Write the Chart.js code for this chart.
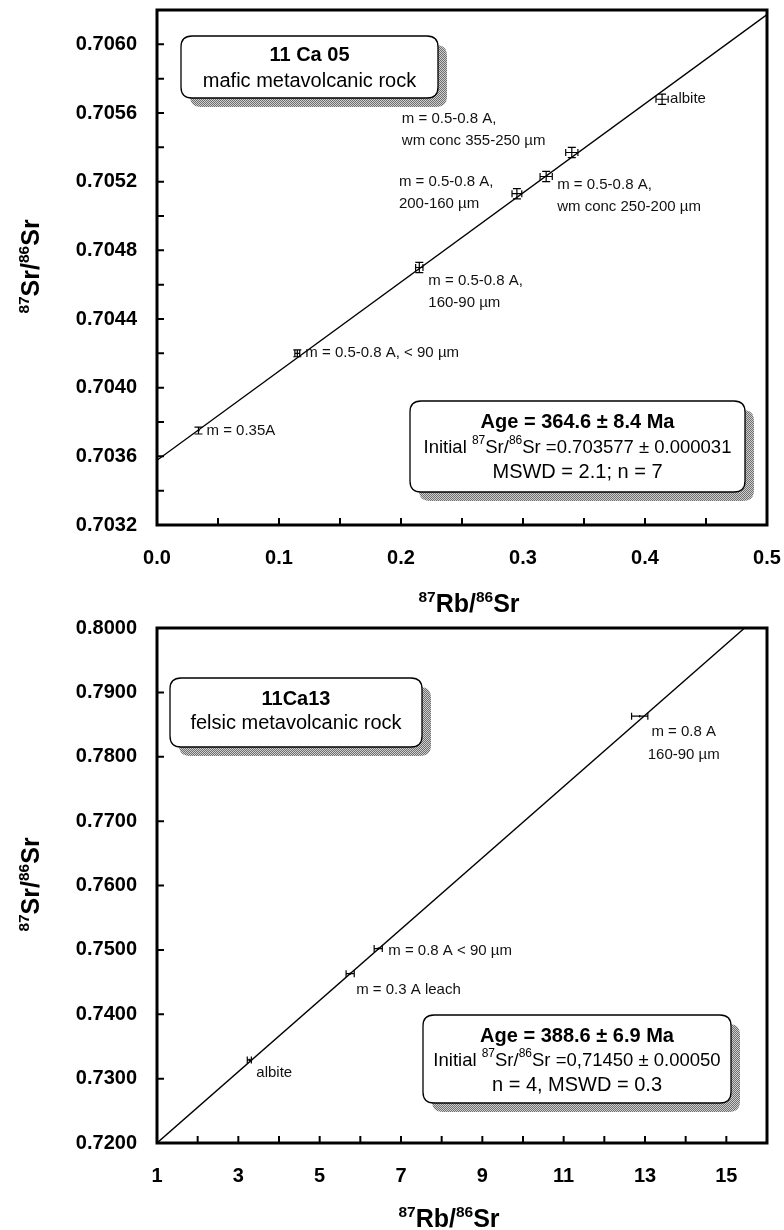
<!DOCTYPE html>
<html><head><meta charset="utf-8">
<script src="https://cdn.jsdelivr.net/npm/chart.js@4.4.1/dist/chart.umd.min.js"></script>
<style>
html,body{margin:0;padding:0;background:#fff;}
.wrap{position:relative;width:784px;height:615px;}
canvas{display:block;}
</style></head><body>
<div class="wrap"><canvas id="c1" width="784" height="615"></canvas></div>
<div class="wrap"><canvas id="c2" width="784" height="615"></canvas></div>
<script>
// ---------- DATA: top chart (11 Ca 05) ----------
const topX    = [0.034, 0.115, 0.215, 0.295, 0.319, 0.340, 0.414];
const topY    = [0.70375, 0.70420, 0.70470, 0.70513, 0.70523, 0.70537, 0.70568];
const topXErr = [0.001, 0.002, 0.003, 0.004, 0.005, 0.005, 0.005];
const topYErr = [0.00002, 0.00002, 0.00003, 0.00003, 0.00003, 0.00003, 0.00003];
const topPointLabels = [
  ["m = 0.35A"],
  ["m = 0.5-0.8 A, < 90 µm"],
  ["m = 0.5-0.8 A,", "160-90 µm"],
  ["m = 0.5-0.8 A,", "200-160 µm"],
  ["m = 0.5-0.8 A,", "wm conc 250-200 µm"],
  ["m = 0.5-0.8 A,", "wm conc 355-250 µm"],
  ["albite"]
];
const topLineX = [0, 0.5];
const topLineY = [0.703577, 0.706173];
const topXTickValues = [0, 0.05, 0.1, 0.15, 0.2, 0.25, 0.3, 0.35, 0.4, 0.45, 0.5];
const topXTickLabels = ["0.0", "", "0.1", "", "0.2", "", "0.3", "", "0.4", "", "0.5"];
const topYTickValues = [0.7032, 0.7034, 0.7036, 0.7038, 0.7040, 0.7042, 0.7044, 0.7046, 0.7048, 0.7050, 0.7052, 0.7054, 0.7056, 0.7058, 0.7060, 0.7062];
const topYTickLabels = ["0.7032", "", "0.7036", "", "0.7040", "", "0.7044", "", "0.7048", "", "0.7052", "", "0.7056", "", "0.7060", ""];

// ---------- DATA: bottom chart (11Ca13) ----------
const botX    = [3.27, 5.75, 6.44, 12.87];
const botY    = [0.7329, 0.7463, 0.7502, 0.7863];
const botXErr = [0.05, 0.1, 0.1, 0.2];
const botYErr = [0.0002, 0.0002, 0.0002, 0.0002];
const botPointLabels = [
  ["albite"],
  ["m = 0.3 A leach"],
  ["m = 0.8 A < 90 µm"],
  ["m = 0.8 A", "160-90 µm"]
];
const botLineX = [1, 15.45];
const botLineY = [0.7200, 0.8000];
const botXTickValues = [1,2,3,4,5,6,7,8,9,10,11,12,13,14,15,16];
const botXTickLabels = ["1","","3","","5","","7","","9","","11","","13","","15",""];
const botYTickValues = [0.72, 0.73, 0.74, 0.75, 0.76, 0.77, 0.78, 0.79, 0.80];
const botYTickLabels = ["0.7200","0.7300","0.7400","0.7500","0.7600","0.7700","0.7800","0.7900","0.8000"];

// ---------- text boxes ----------
const topBoxSample = ["11 Ca 05", "mafic metavolcanic rock"];
const topBoxAge = ["Age = 364.6 ± 8.4 Ma", "=0.703577 ± 0.000031", "MSWD = 2.1; n = 7"];
const botBoxSample = ["11Ca13", "felsic metavolcanic rock"];
const botBoxAge = ["Age = 388.6 ± 6.9 Ma", "=0,71450 ± 0.00050", "n = 4, MSWD = 0.3"];

// ---------- styles / layout ----------
const FONT = "'Liberation Sans', Arial, Helvetica, sans-serif";
Chart.defaults.font.family = FONT;
Chart.defaults.color = '#000';

const pc = document.createElement('canvas'); pc.width = 2; pc.height = 2;
const pctx = pc.getContext('2d');
pctx.fillStyle = '#cfcfcf'; pctx.fillRect(0,0,2,2);
pctx.fillStyle = '#6e6e6e'; pctx.fillRect(0,0,1,1); pctx.fillRect(1,1,1,1);

function rr(ctx, x, y, w, h, r) {
  ctx.beginPath();
  ctx.moveTo(x + r, y);
  ctx.lineTo(x + w - r, y); ctx.quadraticCurveTo(x + w, y, x + w, y + r);
  ctx.lineTo(x + w, y + h - r); ctx.quadraticCurveTo(x + w, y + h, x + w - r, y + h);
  ctx.lineTo(x + r, y + h); ctx.quadraticCurveTo(x, y + h, x, y + h - r);
  ctx.lineTo(x, y + r); ctx.quadraticCurveTo(x, y, x + r, y);
  ctx.closePath();
}
function drawRich(ctx, parts, cx, cy, mainFont, supFont, rise, baseline) {
  ctx.textBaseline = baseline || 'middle';
  ctx.textAlign = 'left';
  let total = 0;
  parts.forEach(p => { ctx.font = p.sup ? supFont : mainFont; p.w = ctx.measureText(p.t).width; total += p.w; });
  let x = cx - total / 2;
  parts.forEach(p => {
    ctx.font = p.sup ? supFont : mainFont;
    ctx.fillText(p.t, x, p.sup ? cy - rise : cy);
    x += p.w;
  });
}
function drawBox(ctx, b) {
  ctx.save();
  rr(ctx, b.x + 9, b.y + 9, b.w, b.h, 11);
  ctx.fillStyle = ctx.createPattern(pc, 'repeat');
  ctx.fill();
  rr(ctx, b.x, b.y, b.w, b.h, 11);
  ctx.fillStyle = '#fff'; ctx.fill();
  ctx.lineWidth = 1.3; ctx.strokeStyle = '#000'; ctx.stroke();
  ctx.restore();
}

function makeDecor(cfg) {
  return {
    id: 'decor',
    afterDatasetsDraw(chart) {
      const ctx = chart.ctx, xs = chart.scales.x, ys = chart.scales.y, ca = chart.chartArea;
      ctx.save();
      // error bars
      ctx.strokeStyle = '#000'; ctx.lineWidth = 1.2;
      for (let i = 0; i < cfg.X.length; i++) {
        const px = xs.getPixelForValue(cfg.X[i]), py = ys.getPixelForValue(cfg.Y[i]);
        const x1 = xs.getPixelForValue(cfg.X[i] - cfg.XE[i]), x2 = xs.getPixelForValue(cfg.X[i] + cfg.XE[i]);
        const y1 = ys.getPixelForValue(cfg.Y[i] - cfg.YE[i]), y2 = ys.getPixelForValue(cfg.Y[i] + cfg.YE[i]);
        ctx.beginPath();
        ctx.moveTo(x1, py); ctx.lineTo(x2, py);
        if (x2 - x1 > 2.5) { ctx.moveTo(x1, py - 3.5); ctx.lineTo(x1, py + 3.5); ctx.moveTo(x2, py - 3.5); ctx.lineTo(x2, py + 3.5); }
        ctx.moveTo(px, y1); ctx.lineTo(px, y2);
        if (y1 - y2 > 4) { ctx.moveTo(px - 4, y1); ctx.lineTo(px + 4, y1); ctx.moveTo(px - 4, y2); ctx.lineTo(px + 4, y2); }
        ctx.stroke();
      }
      // point labels
      ctx.fillStyle = '#111';
      ctx.font = '15px ' + FONT;
      ctx.textBaseline = 'middle';
      for (let i = 0; i < cfg.X.length; i++) {
        const px = xs.getPixelForValue(cfg.X[i]), py = ys.getPixelForValue(cfg.Y[i]);
        const o = cfg.labelOffsets[i];
        ctx.textAlign = o.align || 'left';
        cfg.labels[i].forEach((line, j) => ctx.fillText(line, px + o.dx, py + o.dy + j * 22.5));
      }
      // frame
      ctx.lineWidth = 3; ctx.strokeStyle = '#000';
      ctx.strokeRect(ca.left, ca.top, ca.right - ca.left, ca.bottom - ca.top);
      // inward ticks
      ctx.lineWidth = 2;
      ctx.beginPath();
      xs.ticks.forEach(t => {
        const p = xs.getPixelForValue(t.value);
        if (p > ca.left + 2 && p < ca.right - 2) { ctx.moveTo(p, ca.bottom); ctx.lineTo(p, ca.bottom - 7); }
      });
      ys.ticks.forEach(t => {
        const p = ys.getPixelForValue(t.value);
        if (p > ca.top + 2 && p < ca.bottom - 2) { ctx.moveTo(ca.left, p); ctx.lineTo(ca.left + 7, p); }
      });
      ctx.stroke();
      // boxes
      cfg.boxes.forEach(b => {
        drawBox(ctx, b);
        ctx.fillStyle = '#000';
        b.lines.forEach(l => {
          if (l.parts) {
            drawRich(ctx, l.parts, b.x + b.w / 2, l.y, '18.5px ' + FONT, '12px ' + FONT, 7.5);
          } else {
            ctx.font = (l.bold ? 'bold ' : '') + '20px ' + FONT;
            ctx.textAlign = 'center'; ctx.textBaseline = 'middle';
            ctx.fillText(l.t, b.x + b.w / 2, l.y);
          }
        });
      });
      // axis titles
      ctx.fillStyle = '#000';
      drawRich(ctx, [{t:'87',sup:true},{t:'Rb/'},{t:'86',sup:true},{t:'Sr'}], cfg.xTitleX, 612,
        'bold 25px ' + FONT, 'bold 15.5px ' + FONT, 10.5, 'alphabetic');
      ctx.save();
      ctx.translate(39, (ca.top + ca.bottom) / 2 - 1);
      ctx.rotate(-Math.PI / 2);
      drawRich(ctx, [{t:'87',sup:true},{t:'Sr/'},{t:'86',sup:true},{t:'Sr'}], 0, 0,
        'bold 25px ' + FONT, 'bold 15.5px ' + FONT, 10.5, 'alphabetic');
      ctx.restore();
      ctx.restore();
    }
  };
}

function makeChart(id, cfg) {
  const labelFor = (vals, labs) => v => { const i = vals.findIndex(a => Math.abs(a - v) < 1e-9); return i >= 0 ? labs[i] : ''; };
  return new Chart(document.getElementById(id), {
    type: 'scatter',
    data: {
      datasets: [
        { data: cfg.lineX.map((x, i) => ({x, y: cfg.lineY[i]})), showLine: true, borderColor: '#000', borderWidth: 1.4, pointRadius: 0, fill: false },
        { data: cfg.X.map((x, i) => ({x, y: cfg.Y[i]})), pointRadius: 0, showLine: false }
      ]
    },
    options: {
      responsive: false, animation: false, events: [],
      layout: { padding: cfg.padding },
      plugins: { legend: { display: false }, tooltip: { enabled: false } },
      scales: {
        x: {
          type: 'linear', min: cfg.xMin, max: cfg.xMax,
          afterBuildTicks: s => { s.ticks = cfg.xTickValues.map(v => ({value: v})); },
          afterFit: s => { s.height = cfg.xHeight; s.paddingLeft = 0; s.paddingRight = 0; },
          ticks: { autoSkip: false, maxRotation: 0, padding: 23, font: { size: 20, weight: 'bold', lineHeight: 1 }, color: '#000', callback: labelFor(cfg.xTickValues, cfg.xTickLabels) },
          grid: { display: false, drawTicks: false }, border: { display: false }
        },
        y: {
          type: 'linear', min: cfg.yMin, max: cfg.yMax,
          afterBuildTicks: s => { s.ticks = cfg.yTickValues.map(v => ({value: v})); },
          afterFit: s => { s.width = 157; s.paddingTop = 0; s.paddingBottom = 0; },
          ticks: { autoSkip: false, padding: 20, font: { size: 20, weight: 'bold', lineHeight: 1 }, color: '#000', callback: labelFor(cfg.yTickValues, cfg.yTickLabels) },
          grid: { display: false, drawTicks: false }, border: { display: false }
        }
      }
    },
    plugins: [makeDecor(cfg)]
  });
}

makeChart('c1', {
  X: topX, Y: topY, XE: topXErr, YE: topYErr, labels: topPointLabels,
  lineX: topLineX, lineY: topLineY,
  xMin: 0, xMax: 0.5, yMin: 0.7032, yMax: 0.7062,
  xTickValues: topXTickValues, xTickLabels: topXTickLabels,
  yTickValues: topYTickValues, yTickLabels: topYTickLabels,
  padding: { top: 10, right: 17, left: 0, bottom: 0 }, xHeight: 90, xTitleX: 469,
  labelOffsets: [
    {dx: 8, dy: 0}, {dx: 8, dy: 0}, {dx: 9, dy: 13}, {dx: -118, dy: -12},
    {dx: 11, dy: 8}, {dx: -170, dy: -34}, {dx: 8, dy: 0}
  ],
  boxes: [
    { x: 181, y: 36, w: 257, h: 62, lines: [ {t: topBoxSample[0], bold: true, y: 55}, {t: topBoxSample[1], y: 81} ] },
    { x: 410, y: 401, w: 335, h: 91, lines: [
      {t: topBoxAge[0], bold: true, y: 422},
      {parts: [{t:'Initial '},{t:'87',sup:true},{t:'Sr/'},{t:'86',sup:true},{t:'Sr '},{t: topBoxAge[1]}], y: 448},
      {t: topBoxAge[2], y: 472} ] }
  ]
});

makeChart('c2', {
  X: botX, Y: botY, XE: botXErr, YE: botYErr, labels: botPointLabels,
  lineX: botLineX, lineY: botLineY,
  xMin: 1, xMax: 16, yMin: 0.72, yMax: 0.80,
  xTickValues: botXTickValues, xTickLabels: botXTickLabels,
  yTickValues: botYTickValues, yTickLabels: botYTickLabels,
  padding: { top: 13, right: 17, left: 0, bottom: 0 }, xHeight: 87, xTitleX: 449,
  labelOffsets: [
    {dx: 7, dy: 13}, {dx: 6, dy: 16}, {dx: 10, dy: 2}, {dx: 44, dy: 16, align: 'center'}
  ],
  boxes: [
    { x: 170, y: 63, w: 252, h: 69, lines: [ {t: botBoxSample[0], bold: true, y: 84}, {t: botBoxSample[1], y: 108} ] },
    { x: 423, y: 400, w: 308, h: 88, lines: [
      {t: botBoxAge[0], bold: true, y: 421},
      {parts: [{t:'Initial '},{t:'87',sup:true},{t:'Sr/'},{t:'86',sup:true},{t:'Sr '},{t: botBoxAge[1]}], y: 446},
      {t: botBoxAge[2], y: 470} ] }
  ]
});
</script>
</body></html>
